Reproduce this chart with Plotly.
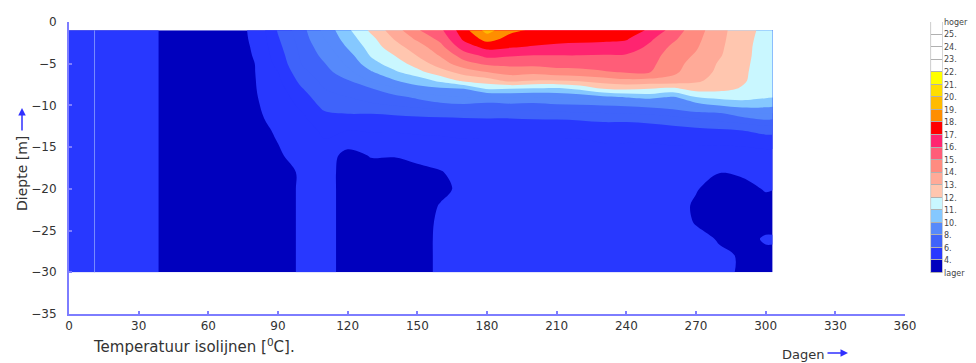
import numpy as np
import plotly.graph_objects as go

# ---------------- data ----------------
days = [0, 10, 20, 30, 40, 50, 60, 70, 80, 90, 100, 110, 120, 130, 140, 150,
        160, 170, 180, 190, 200, 210, 220, 230, 240, 250, 260, 270, 280, 290, 300, 303]
depths = [-1, -2, -3, -4, -5, -6, -7, -8, -9, -10, -11, -12, -13, -14,
          -16, -18, -20, -22, -24, -26, -28, -30]

# one temperature profile (deg C) per day, top (-1 m) to bottom (-30 m)
temperature_profiles = [
    [5.0, 5.0, 5.0, 5.0, 5.0, 5.0, 5.0, 5.0, 5.0, 5.0, 5.0, 5.0, 5.0, 5.0, 5.0, 5.0, 5.0, 5.0, 5.0, 5.0, 5.0, 5.0],  # 0
    [5.0, 5.0, 5.0, 5.0, 5.0, 5.0, 5.0, 5.0, 5.0, 5.0, 5.0, 5.0, 5.0, 5.0, 5.0, 5.0, 5.0, 5.0, 5.0, 5.0, 5.0, 5.0],  # 10
    [5.0, 5.0, 5.0, 5.0, 5.0, 5.0, 5.0, 5.0, 5.0, 5.0, 5.0, 5.0, 5.0, 5.0, 5.0, 5.0, 5.0, 5.0, 5.0, 5.0, 5.0, 5.0],  # 20
    [4.6, 4.6, 4.6, 4.6, 4.6, 4.6, 4.6, 4.6, 4.6, 4.6, 4.6, 4.6, 4.6, 4.6, 4.6, 4.6, 4.6, 4.6, 4.6, 4.6, 4.6, 4.6],  # 30
    [3.9, 3.9, 3.9, 3.9, 3.9, 3.9, 3.9, 3.9, 3.9, 3.9, 3.9, 3.9, 3.9, 3.9, 3.9, 3.9, 3.9, 3.9, 3.9, 3.9, 3.9, 3.9],  # 40
    [3.6, 3.6, 3.6, 3.6, 3.6, 3.6, 3.6, 3.6, 3.6, 3.6, 3.6, 3.6, 3.6, 3.6, 3.6, 3.6, 3.6, 3.6, 3.6, 3.6, 3.6, 3.6],  # 50
    [3.6, 3.6, 3.6, 3.6, 3.6, 3.6, 3.6, 3.6, 3.6, 3.6, 3.6, 3.6, 3.6, 3.6, 3.6, 3.6, 3.6, 3.6, 3.6, 3.6, 3.6, 3.6],  # 60
    [3.8, 3.8, 3.8, 3.78, 3.76, 3.75, 3.74, 3.73, 3.72, 3.7, 3.7, 3.7, 3.7, 3.7, 3.7, 3.7, 3.7, 3.7, 3.7, 3.7, 3.7, 3.7],  # 70
    [4.1, 4.08, 4.05, 4.03, 4.0, 3.98, 3.96, 3.95, 3.93, 3.9, 3.88, 3.86, 3.85, 3.84, 3.8, 3.8, 3.8, 3.8, 3.8, 3.8, 3.8, 3.8],  # 80
    [6.1, 5.9, 5.7, 5.5, 5.3, 5.0, 4.8, 4.6, 4.45, 4.35, 4.25, 4.15, 4.06, 4.02, 3.95, 3.9, 3.9, 3.9, 3.9, 3.9, 3.9, 3.9],  # 90
    [7.6, 7.45, 7.3, 7.15, 7.0, 6.7, 6.3, 5.9, 5.5, 5.2, 4.9, 4.7, 4.5, 4.35, 4.15, 4.03, 4.03, 4.03, 4.03, 4.03, 4.03, 4.03],  # 100
    [9.3, 9.0, 8.6, 8.3, 7.95, 7.6, 7.3, 7.0, 6.7, 6.3, 5.85, 5.5, 5.2, 5.0, 4.45, 4.4, 4.4, 4.4, 4.4, 4.4, 4.4, 4.4],  # 110
    [10.8, 10.5, 10.1, 9.6, 9.2, 8.7, 7.95, 7.5, 7.0, 6.5, 6.0, 5.5, 5.0, 4.5, 3.7, 3.6, 3.6, 3.6, 3.6, 3.6, 3.6, 3.6],  # 120
    [12.2, 11.7, 11.4, 11.1, 10.6, 9.9, 9.2, 7.9, 7.4, 6.8, 6.0, 5.5, 5.1, 4.7, 4.05, 3.7, 3.6, 3.6, 3.6, 3.6, 3.6, 3.6],  # 130
    [13.5, 13.05, 12.6, 12.0, 11.5, 10.8, 9.95, 8.8, 7.7, 7.0, 6.1, 5.5, 5.1, 4.7, 4.05, 3.6, 3.5, 3.5, 3.5, 3.5, 3.5, 3.5],  # 140
    [14.9, 14.2, 13.5, 13.05, 12.4, 11.7, 10.4, 9.7, 8.2, 7.3, 6.2, 5.6, 5.2, 4.8, 4.3, 3.7, 3.5, 3.6, 3.75, 3.7, 3.7, 3.7],  # 150
    [15.8, 15.3, 14.7, 14.1, 13.5, 12.6, 11.3, 9.8, 8.8, 7.6, 6.3, 5.6, 5.2, 4.9, 4.4, 3.95, 3.8, 4.05, 4.1, 4.15, 4.15, 4.15],  # 160
    [17.6, 17.2, 16.5, 15.5, 14.6, 13.4, 12.3, 10.0, 9.0, 7.8, 6.4, 5.6, 5.2, 5.0, 4.6, 4.3, 4.2, 4.3, 4.4, 4.4, 4.4, 4.4],  # 170
    [19.4, 18.4, 17.3, 16.3, 15.2, 14.0, 12.6, 11.1, 8.9, 7.6, 6.5, 5.6, 5.2, 5.0, 4.6, 4.4, 4.3, 4.3, 4.3, 4.3, 4.3, 4.3],  # 180
    [18.2, 17.7, 17.1, 16.1, 15.3, 14.4, 13.3, 11.0, 9.1, 7.7, 6.5, 5.6, 5.2, 5.0, 4.6, 4.4, 4.3, 4.3, 4.3, 4.3, 4.3, 4.3],  # 190
    [17.9, 17.5, 16.9, 16.0, 15.3, 14.3, 13.0, 10.9, 9.0, 7.6, 6.6, 5.7, 5.3, 5.0, 4.6, 4.4, 4.3, 4.3, 4.3, 4.3, 4.3, 4.3],  # 200
    [17.6, 17.3, 16.8, 16.0, 15.4, 14.6, 13.0, 10.8, 9.2, 7.8, 6.7, 5.7, 5.3, 5.0, 4.6, 4.4, 4.3, 4.3, 4.3, 4.3, 4.3, 4.3],  # 210
    [17.5, 17.2, 16.8, 16.0, 15.4, 14.7, 13.2, 11.2, 9.4, 7.9, 6.8, 5.8, 5.3, 5.0, 4.6, 4.4, 4.3, 4.3, 4.3, 4.3, 4.3, 4.3],  # 220
    [17.5, 17.2, 16.7, 15.95, 15.5, 14.9, 13.5, 12.0, 9.8, 8.0, 6.9, 6.0, 5.4, 5.1, 4.7, 4.45, 4.35, 4.35, 4.35, 4.35, 4.35, 4.35],  # 230
    [17.4, 17.1, 16.6, 15.9, 15.5, 15.1, 13.8, 12.2, 10.1, 8.1, 7.0, 6.0, 5.4, 5.1, 4.7, 4.45, 4.35, 4.35, 4.35, 4.35, 4.35, 4.35],  # 240
    [16.9, 16.2, 15.8, 15.5, 15.3, 15.05, 13.7, 12.0, 10.4, 8.3, 7.1, 6.1, 5.5, 5.1, 4.7, 4.5, 4.4, 4.4, 4.4, 4.4, 4.4, 4.4],  # 250
    [15.6, 15.2, 14.8, 14.5, 14.3, 14.2, 13.7, 11.8, 9.9, 8.6, 7.3, 6.3, 5.6, 5.2, 4.7, 4.45, 4.3, 4.3, 4.35, 4.4, 4.4, 4.4],  # 260
    [14.4, 14.25, 14.1, 13.9, 13.7, 13.5, 13.2, 12.4, 11.0, 9.5, 7.6, 6.6, 5.7, 5.3, 4.6, 4.3, 4.05, 3.9, 3.95, 4.2, 4.3, 4.3],  # 270
    [13.4, 13.3, 13.2, 13.1, 12.9, 12.8, 12.6, 12.3, 11.3, 10.0, 7.8, 6.9, 5.8, 5.4, 4.4, 4.02, 3.7, 3.6, 3.7, 3.95, 4.1, 4.1],  # 280
    [12.3, 12.3, 12.3, 12.3, 12.25, 12.2, 12.15, 11.9, 11.3, 10.5, 8.5, 7.2, 6.0, 5.5, 4.4, 4.1, 3.8, 3.6, 3.7, 3.85, 3.95, 3.95],  # 290
    [11.8, 11.7, 11.6, 11.55, 11.5, 11.45, 11.4, 11.3, 11.1, 10.3, 9.0, 7.6, 6.2, 5.8, 4.5, 4.2, 4.05, 3.8, 3.85, 4.05, 3.9, 3.85],  # 300
    [11.6, 11.55, 11.5, 11.45, 11.4, 11.35, 11.3, 11.2, 11.05, 10.2, 8.9, 7.5, 6.2, 5.8, 4.5, 4.2, 4.02, 3.8, 3.85, 4.05, 3.9, 3.85],  # 303
]

# isotherm class edges and the colour of each class (below 4 ... above 22)
level_edges = [4, 6, 8, 10, 11, 12, 13, 14, 15, 16, 17, 18, 19, 20, 21, 22]
band_colors = ["#0000BE", "#2838FF", "#3F63FA", "#5689FB", "#85C8FF", "#C9F7FF",
               "#FFC6AF", "#FFAA98", "#FF8B80", "#FF5D78", "#FF2470", "#FF0000",
               "#FF8E00", "#FFBB00", "#FFDD00", "#FFFF00", "#FFFFFF"]
# legend boxes bottom -> top, and the labels at their edges
legend_colors = band_colors[:16] + ["#FFFFFF", "#FFFFFF", "#FFFFFF", "#FFFFFF"]
legend_labels = ["lager", "4.", "6.", "8.", "10.", "11.", "12.", "13.", "14.", "15.",
                 "16.", "17.", "18.", "19.", "20.", "21.", "22.", "23.", "24.", "25.", "hoger"]

x_ticks = [0, 30, 60, 90, 120, 150, 180, 210, 240, 270, 300, 330, 360]
y_ticks = [0, -5, -10, -15, -20, -25, -30, -35]
marker_day = 11  # thin light line in the original drawing

# ---------------- figure ----------------
z = np.array(temperature_profiles).T

c_start, c_end, c_size = 4, 25, 1
lo, hi = c_start - c_size / 2, c_end + c_size / 2


def pos(v):
    return (v - lo) / (hi - lo)


cscale = []
for i, col in enumerate(band_colors):
    lower = level_edges[i - 1] if i > 0 else lo
    upper = level_edges[i] if i < len(level_edges) else hi
    cscale.append([pos(lower), col])
    cscale.append([pos(upper), col])

W, H = 976, 363
ML, MR, MT, MB = 69, 5, 22, 49
PW, PH = W - ML - MR, H - MT - MB
main_right = 905


def px_x(p):
    return (p - ML) / PW


def px_y(p):
    return (H - MB - p) / PH


fig = go.Figure()
fig.add_trace(go.Contour(
    x=days, y=depths, z=z,
    autocontour=False,
    contours=dict(start=c_start, end=c_end, size=c_size, coloring="fill", showlines=False),
    line=dict(width=0),
    colorscale=cscale, showscale=False, hoverinfo="skip",
    xaxis="x", yaxis="y",
))

n_leg = len(legend_colors)
leg_scale = []
for k, col in enumerate(legend_colors):
    leg_scale.append([k / n_leg, col])
    leg_scale.append([(k + 1) / n_leg, col])
fig.add_trace(go.Heatmap(
    x=[0], y=[k + 0.5 for k in range(n_leg)], z=[[k] for k in range(n_leg)],
    zmin=-0.5, zmax=n_leg - 0.5, colorscale=leg_scale, showscale=False,
    ygap=1, hoverinfo="skip", xaxis="x2", yaxis="y2",
))

axis_col = "#7d7dff"
tick_font = dict(family="DejaVu Sans", size=12, color="#333333")
fig.update_layout(
    width=W, height=H,
    margin=dict(l=ML, r=MR, t=MT, b=MB, autoexpand=False),
    paper_bgcolor="white", plot_bgcolor="white",
    showlegend=False,
    xaxis=dict(domain=[0, px_x(main_right)], range=[0, 360], tickvals=x_ticks,
               showline=True, linecolor=axis_col, linewidth=2, ticks="inside",
               ticklen=3, tickwidth=2, tickcolor=axis_col, showgrid=False,
               zeroline=False, tickfont=tick_font, anchor="y", automargin=False),
    yaxis=dict(domain=[0, 1], range=[-35, 0], tickvals=y_ticks,
               showline=True, linecolor=axis_col, linewidth=2, ticks="inside",
               ticklen=3, tickwidth=2, tickcolor=axis_col, showgrid=False,
               zeroline=False, tickfont=tick_font, anchor="x", ticklabelstandoff=8,
               automargin=False),
    xaxis2=dict(domain=[px_x(930), px_x(943)], range=[-0.6, 0.6], visible=False,
                anchor="y2", fixedrange=True, automargin=False),
    yaxis2=dict(domain=[px_y(273), px_y(22)], range=[0, n_leg], anchor="x2",
                side="right", tickvals=list(range(n_leg + 1)), ticktext=legend_labels,
                showgrid=False, zeroline=False, showline=False, ticks="",
                automargin=False, fixedrange=True,
                tickfont=dict(family="DejaVu Sans", size=8, color="#444444")),
)

# grey backing of the legend boxes (shows through the gaps)
fig.add_shape(type="rect", xref="x2", yref="y2", x0=-0.56, x1=0.56, y0=-0.08, y1=n_leg + 0.08,
              fillcolor="#b0b0b0", line=dict(width=0), layer="below")
# thin light line in the data area
fig.add_shape(type="line", xref="x", yref="y", x0=marker_day, x1=marker_day,
              y0=depths[-1], y1=depths[0], line=dict(color="rgba(130,150,255,0.9)", width=1))

title_font = dict(family="DejaVu Sans", size=14, color="#333333")
fig.add_annotation(xref="paper", yref="paper", x=px_x(22), y=px_y(174), text="Diepte [m]",
                   xanchor="center", yanchor="middle",
                   textangle=-90, showarrow=False, font=title_font)
fig.add_annotation(xref="paper", yref="paper", x=px_x(22), y=px_y(108), text="",
                   showarrow=True, ax=0, ay=24, arrowhead=2, arrowsize=1, arrowwidth=1.5,
                   arrowcolor="#3030ff")
fig.add_annotation(xref="paper", yref="paper", x=px_x(91), y=px_y(346), xanchor="left",
                   yanchor="middle",
                   text="Temperatuur isolijnen [<sup>0</sup>C].", showarrow=False,
                   font=dict(family="DejaVu Sans", size=15, color="#333333"))
fig.add_annotation(xref="paper", yref="paper", x=px_x(803), y=px_y(354),
                   xanchor="center", yanchor="middle",
                   text="Dagen", showarrow=False,
                   font=dict(family="DejaVu Sans", size=13, color="#333333"))
fig.add_annotation(xref="paper", yref="paper", x=px_x(848), y=px_y(353), text="",
                   showarrow=True, ax=-22, ay=0, arrowhead=2, arrowsize=1, arrowwidth=1.5,
                   arrowcolor="#3030ff")

fig.write_html("out.html", post_script="document.body.style.margin='0';",
               config={"displayModeBar": False})
